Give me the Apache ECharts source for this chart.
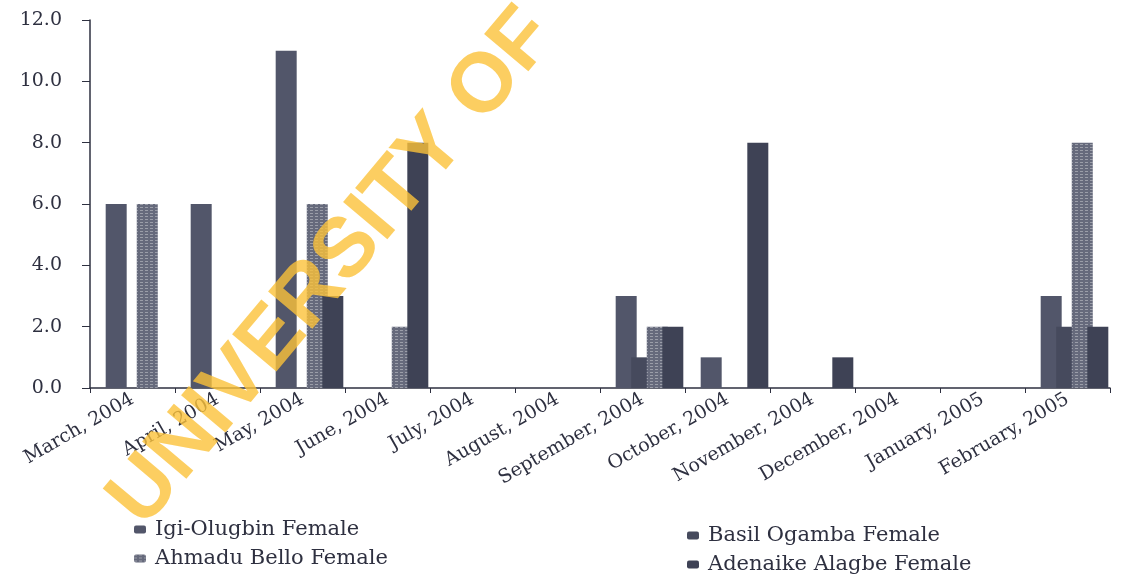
<!DOCTYPE html>
<html>
<head>
<meta charset="utf-8">
<script src="https://cdn.jsdelivr.net/npm/echarts@6/dist/echarts.min.js"></script>
<style>
  html, body { margin: 0; padding: 0; background: #fff; }
  #chart { width: 1121px; height: 574px; }
</style>
</head>
<body>
<div id="chart"></div>
<script>
// months on the x axis
var months = ['March, 2004', 'April, 2004', 'May, 2004', 'June, 2004', 'July, 2004', 'August, 2004',
  'September, 2004', 'October, 2004', 'November, 2004', 'December, 2004', 'January, 2005', 'February, 2005'];

// values
var igiOlugbin = [6, 6, 11, 0, 0, 0, 3, 1, 0, 0, 0, 3];
var basilOgamba = [0, 0, 0, 0, 0, 0, 1, 0, 0, 0, 0, 2];
var ahmaduBello = [6, 0, 6, 2, 0, 0, 2, 0, 0, 0, 0, 8];
var adenaikeAlagbe = [0, 0, 3, 8, 0, 0, 2, 8, 1, 0, 0, 2];

var yTicks = [0, 2, 4, 6, 8, 10, 12];

var chart = echarts.init(document.getElementById('chart'));

var serif = 'DejaVu Serif';
var ink = '#2e3040';
var yMin = yTicks[0], yMax = yTicks[yTicks.length - 1];

function barSeries(name, data, color, hatched) {
  var s = {
    name: name,
    type: 'bar',
    data: data,
    xAxisIndex: 1,
    yAxisIndex: 1,
    barWidth: 21,
    barGap: '-26%',
    itemStyle: { color: color }
  };
  if (hatched) {
    s.itemStyle.decal = {
      symbol: 'rect',
      symbolSize: 1,
      dashArrayX: [[3, 2]],
      dashArrayY: [1, 2],
      color: 'rgba(255,255,255,0.35)'
    };
  }
  return s;
}

function legendBox(left, top, names) {
  return {
    orient: 'vertical',
    left: left, top: top, padding: 0,
    width: 400, height: 80,
    itemWidth: 12, itemHeight: 8, itemGap: 8,
    textStyle: { fontFamily: serif, fontSize: 21, color: ink, padding: [0, 0, 0, 4] },
    data: names
  };
}

var option = {
  backgroundColor: '#fff',
  animation: false,
  textStyle: { fontFamily: serif },
  // grid 0 carries the visible axes, grid 1 the bars (shifted a bit right like the 3D original)
  grid: [
    { left: 90, right: 11, top: 20, bottom: 186 },
    { left: 97, right: 4, top: 20, bottom: 186 }
  ],
  legend: [
    legendBox(134, 519, ['Igi-Olugbin Female', 'Ahmadu Bello Female']),
    legendBox(687, 525, ['Basil Ogamba Female', 'Adenaike Alagbe Female'])
  ],
  xAxis: [{
    type: 'category',
    gridIndex: 0,
    data: months,
    axisLine: { lineStyle: { color: ink, width: 1.5 } },
    axisTick: { show: true, length: 5, lineStyle: { color: ink } },
    axisLabel: {
      interval: 0, rotate: 30, margin: 10,
      fontFamily: serif, fontSize: 19, color: ink
    }
  }, {
    type: 'category',
    gridIndex: 1,
    data: months,
    show: false
  }],
  yAxis: [{
    type: 'value',
    gridIndex: 0,
    min: yMin, max: yMax, interval: 2,
    splitLine: { show: false },
    axisLine: { show: true, lineStyle: { color: ink, width: 1.5 } },
    axisTick: { show: true, length: 8, lineStyle: { color: ink } },
    axisLabel: {
      margin: 28,
      fontFamily: serif, fontSize: 19, color: ink,
      formatter: function (v) { return v.toFixed(1); }
    }
  }, {
    type: 'value',
    gridIndex: 1,
    min: yMin, max: yMax, interval: 2,
    show: false,
    splitLine: { show: false }
  }],
  series: [
    barSeries('Igi-Olugbin Female', igiOlugbin, '#52566a', false),
    barSeries('Basil Ogamba Female', basilOgamba, '#464a5d', false),
    barSeries('Ahmadu Bello Female', ahmaduBello, '#666a7c', true),
    barSeries('Adenaike Alagbe Female', adenaikeAlagbe, '#3e4255', false)
  ],
  graphic: [{
    // scan watermark across the plot
    type: 'text',
    x: 333, y: 268,
    rotation: 50 * Math.PI / 180,
    z: 100,
    style: {
      text: 'UNIVERSITY OF',
      font: 'bold 84px "Liberation Sans"',
      fill: 'rgba(251, 194, 58, 0.8)',
      textAlign: 'center',
      textVerticalAlign: 'middle'
    }
  }]
};

chart.setOption(option);
</script>
</body>
</html>
